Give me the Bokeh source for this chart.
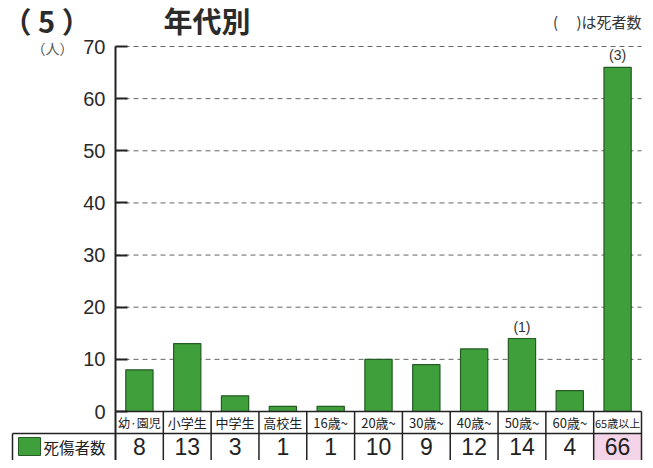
from bokeh.plotting import figure
from bokeh.models import Range1d, FixedTicker, ColumnDataSource
from bokeh.embed import file_html
from bokeh.resources import INLINE
from bokeh.core.properties import value

# ---- data ----
categories = ["幼·園児", "小学生", "中学生", "高校生", "16歳~", "20歳~", "30歳~", "40歳~", "50歳~", "60歳~", "65歳以上"]
casualties = [8, 13, 3, 1, 1, 10, 9, 12, 14, 4, 66]
deaths = ["", "", "", "", "", "", "", "", "(1)", "", "(3)"]
y_ticks = [0, 10, 20, 30, 40, 50, 60, 70]
series_name = "死傷者数"
title_num = "（ 5 ）"
title_text = "年代別"
note_text = "(　 )は死者数"
unit_text = "（人）"

GREEN = "#3f9f3b"
GREEN_LINE = "#245c24"
INK = "#222222"
CJK = "Noto Sans CJK JP"
NUM = "Liberation Sans"

W, H = 645, 460
AX_X, RIGHT_X = 115, 641   # canvas x of axis and table right edge
BASE_Y, TOP_Y = 411, 46    # canvas y of value 0 and value 70
n = len(categories)
ux = (RIGHT_X - AX_X) / n
uy = (BASE_Y - TOP_Y) / y_ticks[-1]

def dx(cx):
    return -0.5 + (cx - AX_X) / ux

def dy(cy):
    return (BASE_Y - cy) / uy

xs = list(range(n))

p = figure(width=W, height=H, output_backend="svg", toolbar_location=None,
           x_range=Range1d(dx(0), dx(W)), y_range=Range1d(dy(H), dy(0)),
           x_axis_location=None, min_border=0, min_border_left=0,
           min_border_right=0, min_border_top=0, min_border_bottom=0)
p.outline_line_color = None
p.xgrid.visible = False
p.ygrid.visible = False

# y axis placed at the left edge of the first column
p.yaxis.fixed_location = -0.5
p.yaxis.bounds = (y_ticks[0], y_ticks[-1])
p.yaxis.ticker = FixedTicker(ticks=y_ticks)
p.yaxis.minor_tick_line_color = None
p.yaxis.major_tick_in = 12
p.yaxis.major_tick_out = 0
p.yaxis.major_tick_line_width = 2
p.yaxis.major_tick_line_color = INK
p.yaxis.axis_line_width = 2
p.yaxis.axis_line_color = INK
p.yaxis.major_label_text_font = NUM
p.yaxis.major_label_text_font_size = "20px"
p.yaxis.major_label_text_color = "#2a2a2a"
p.yaxis.major_label_standoff = 10

# dashed gridlines
gl = y_ticks[1:]
p.segment(x0=[-0.5] * len(gl), y0=gl, x1=[n - 0.5] * len(gl), y1=gl,
          line_color="#666666", line_width=1, line_dash="5 4")

src = ColumnDataSource(dict(x=xs, y=casualties, d=deaths))
p.vbar(x="x", top="y", width=0.57, source=src, fill_color=GREEN,
       line_color=GREEN_LINE, line_width=1.2)
p.text(x="x", y="y", text="d", source=src, y_offset=-4, text_align="center",
       text_baseline="bottom", text_font=value(NUM), text_font_size="14px",
       text_color="#333333")

# titles / notes
p.text(x=[dx(2)], y=[dy(19)], text=[title_num], text_font=value(CJK),
       text_font_style="bold", text_font_size="29px", text_color="#2b2b2b",
       text_baseline="middle")
p.text(x=[dx(163)], y=[dy(19)], text=[title_text], text_font=value(CJK),
       text_font_style="bold", text_font_size="29px", text_color="#2b2b2b",
       text_baseline="middle")
p.text(x=[dx(641)], y=[dy(21)], text=[note_text], text_font=value(CJK),
       text_font_size="15px", text_color="#333333",
       text_align="right", text_baseline="middle")
p.text(x=[dx(73)], y=[dy(47)], text=[unit_text], text_font=value(CJK),
       text_font_size="14px", text_color="#555555",
       text_align="right", text_baseline="middle")

# ---- table ----
HB = dy(433)   # header/data boundary
TB = dy(H)     # table bottom

p.quad(left=[n - 1.5], right=[n - 0.5], top=[HB], bottom=[TB],
       fill_color="#f4d4e8", line_color=None)

fs = ["13px"] * n
fs[0] = "12px"
fs[-1] = "11px"
hsrc = ColumnDataSource(dict(x=xs, lab=categories, fs=fs,
                             v=[str(v) for v in casualties]))
p.text(x="x", y=HB / 2, text="lab", source=hsrc, text_align="center",
       text_baseline="middle", text_font=value(CJK), text_font_size="fs",
       text_color=INK)
p.text(x="x", y=dy(446), text="v", source=hsrc, text_align="center",
       text_baseline="middle", text_font=value(NUM), text_font_size="23px",
       text_color=INK)

edges = [i - 0.5 for i in range(n + 1)]
leg_left = dx(12)
p.segment(x0=edges[1:], y0=[0] * n, x1=edges[1:], y1=[TB] * n,
          line_color=INK, line_width=1.5)
p.segment(x0=[edges[0]], y0=[0], x1=[edges[0]], y1=[TB],
          line_color=INK, line_width=2)
p.segment(x0=[edges[0]], y0=[0], x1=[edges[-1]], y1=[0],
          line_color=INK, line_width=1.5)
p.segment(x0=[leg_left], y0=[HB], x1=[edges[-1]], y1=[HB],
          line_color=INK, line_width=1.3)
p.segment(x0=[leg_left], y0=[HB], x1=[leg_left], y1=[TB],
          line_color=INK, line_width=1.5)

# legend cell
p.quad(left=[dx(18)], right=[dx(40)], top=[dy(437)], bottom=[dy(455)],
       fill_color=GREEN, line_color=GREEN_LINE, line_width=1)
p.text(x=[dx(43)], y=[dy(446)], text=[series_name], text_baseline="middle",
       text_font=value(CJK), text_font_size="15.5px", text_color=INK)

open("out.html", "w").write(file_html(p, INLINE))
